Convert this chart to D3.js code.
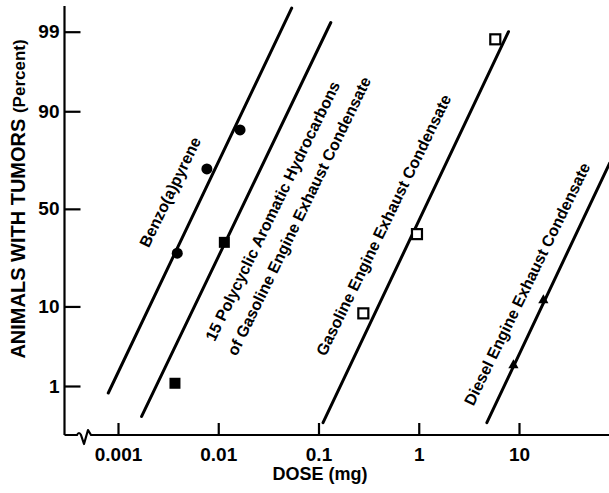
<!DOCTYPE html>
<html>
<head>
<meta charset="utf-8">
<script src="https://cdn.jsdelivr.net/npm/d3@7"></script>
<style>
  body { margin: 0; background: #fff; }
  svg { display: block; font-family: "Liberation Sans", Arial, Helvetica, sans-serif; font-weight: bold; }
</style>
</head>
<body>
<div id="chart"></div>
<script>
// tick labels
const xTickValues = [0.001, 0.01, 0.1, 1, 10];
const xTickLabels = ['0.001', '0.01', '0.1', '1', '10'];
const yTickValues = [1, 10, 50, 90, 99];

// observed points (dose mg, percent with tumors)
const benzoDose = [0.0039, 0.0077, 0.0165];
const benzoPct  = [28, 70, 85];
const pahDose   = [0.0037, 0.0115];
const pahPct    = [1.1, 33];
const gasDose   = [0.28, 0.96, 5.8];
const gasPct    = [8.5, 37, 98.7];
const dieselDose = [8.8, 17.5];
const dieselPct  = [2, 11.5];

// fitted lines, end points
const benzoFitDose  = [0.0008, 0.054];
const benzoFitPct   = [0.78, 99.58];
const pahFitDose    = [0.00172, 0.1327];
const pahFitPct     = [0.32, 99.28];
const gasFitDose    = [0.111, 7.86];
const gasFitPct     = [0.25, 99.0];
const dieselFitDose = [4.78, 80];
const dieselFitPct  = [0.25, 72.5];

// inverse normal cdf (Acklam)
function probit(p) {
  const a = [-39.69683028665376, 220.9460984245205, -275.9285104469687, 138.3577518672690, -30.66479806614716, 2.506628277459239];
  const b = [-54.47609879822406, 161.5858368580409, -155.6989798598866, 66.80131188771972, -13.28068155288572];
  const c = [-0.007784894002430293, -0.3223964580411365, -2.400758277161838, -2.549732539343734, 4.374664141464968, 2.938163982698783];
  const d = [0.007784695709041462, 0.3224671290700398, 2.445134137142996, 3.754408661907416];
  const pl = 0.02425;
  let q, r;
  if (p < pl) {
    q = Math.sqrt(-2 * Math.log(p));
    return (((((c[0]*q+c[1])*q+c[2])*q+c[3])*q+c[4])*q+c[5]) / ((((d[0]*q+d[1])*q+d[2])*q+d[3])*q+1);
  } else if (p <= 1 - pl) {
    q = p - 0.5; r = q * q;
    return (((((a[0]*r+a[1])*r+a[2])*r+a[3])*r+a[4])*r+a[5])*q / (((((b[0]*r+b[1])*r+b[2])*r+b[3])*r+b[4])*r+1);
  } else {
    q = Math.sqrt(-2 * Math.log(1 - p));
    return -(((((c[0]*q+c[1])*q+c[2])*q+c[3])*q+c[4])*q+c[5]) / ((((d[0]*q+d[1])*q+d[2])*q+d[3])*q+1);
  }
}

const W = 609, H = 493;
const axisX = 64.5, axisY = 435;

const x = d3.scaleLog().domain([0.001, 10]).range([118, 519]);
const y = d3.scaleLinear().domain([probit(0.01), probit(0.99)]).range([386, 31.7]);
const yp = p => y(probit(p / 100));

const svg = d3.select('#chart').append('svg')
    .attr('width', W)
    .attr('height', H);

svg.append('defs').append('clipPath').attr('id', 'plot')
  .append('rect').attr('x', axisX).attr('y', 0).attr('width', W - axisX).attr('height', axisY);

// y axis
svg.append('line')
    .attr('x1', axisX).attr('x2', axisX)
    .attr('y1', 6).attr('y2', axisY)
    .attr('stroke', '#000').attr('stroke-width', 2.2);

const yAxis = d3.axisLeft(y)
    .tickValues(yTickValues.map(p => probit(p / 100)))
    .tickFormat((d, i) => yTickValues[i])
    .tickSizeInner(-16)
    .tickSizeOuter(0)
    .tickPadding(5);

const gy = svg.append('g')
    .attr('transform', 'translate(' + axisX + ',0)')
    .call(yAxis);
gy.select('.domain').remove();
gy.selectAll('.tick line').attr('stroke', '#000').attr('stroke-width', 2.2);
gy.selectAll('.tick text')
    .attr('font-size', '19px')
    .attr('font-family', '"Liberation Sans", Arial, sans-serif')
    .attr('font-weight', 'bold')
    .attr('fill', '#000');

// x axis with break mark
svg.append('path')
    .attr('d', 'M' + axisX + ',' + axisY + 'L77,' + axisY + 'Q79,431 81,' + axisY +
               'L84,444L88,430L91,' + axisY + 'L' + W + ',' + axisY)
    .attr('fill', 'none')
    .attr('stroke', '#000')
    .attr('stroke-width', 2.2)
    .attr('stroke-linejoin', 'round');

const xAxis = d3.axisBottom(x)
    .tickValues(xTickValues)
    .tickFormat((d, i) => xTickLabels[i])
    .tickSizeInner(-12)
    .tickSizeOuter(0)
    .tickPadding(13);

const gx = svg.append('g')
    .attr('transform', 'translate(0,' + axisY + ')')
    .call(xAxis);
gx.select('.domain').remove();
gx.selectAll('.tick line').attr('stroke', '#000').attr('stroke-width', 2.2);
gx.selectAll('.tick text')
    .attr('font-size', '19px')
    .attr('font-family', '"Liberation Sans", Arial, sans-serif')
    .attr('font-weight', 'bold')
    .attr('fill', '#000');

// axis titles
svg.append('text')
    .attr('x', 320).attr('y', 480)
    .attr('text-anchor', 'middle')
    .attr('font-size', '18px')
    .text('DOSE (mg)');

const yt = svg.append('text')
    .attr('transform', 'translate(25,199) rotate(-90)')
    .attr('text-anchor', 'middle')
    .attr('font-size', '20px');
yt.append('tspan').text('ANIMALS WITH TUMORS ');
yt.append('tspan').attr('font-size', '17px').text('(Percent)');

// fitted lines
const fits = [
  [benzoFitDose, benzoFitPct],
  [pahFitDose, pahFitPct],
  [gasFitDose, gasFitPct],
  [dieselFitDose, dieselFitPct]
];
const plot = svg.append('g').attr('clip-path', 'url(#plot)');
plot.selectAll('.fit')
    .data(fits)
    .enter().append('line')
    .attr('class', 'fit')
    .attr('x1', d => x(d[0][0])).attr('y1', d => yp(d[1][0]))
    .attr('x2', d => x(d[0][1])).attr('y2', d => yp(d[1][1]))
    .attr('stroke', '#000')
    .attr('stroke-width', 3)
    .attr('stroke-linecap', 'round');

// markers
const zip = (ds, ps) => ds.map((d, i) => ({ dose: d, pct: ps[i] }));

plot.selectAll('.benzo')
    .data(zip(benzoDose, benzoPct))
    .enter().append('circle')
    .attr('cx', d => x(d.dose)).attr('cy', d => yp(d.pct))
    .attr('r', 5.5)
    .attr('fill', '#000');

plot.selectAll('.pah')
    .data(zip(pahDose, pahPct))
    .enter().append('rect')
    .attr('x', d => x(d.dose) - 5.5).attr('y', d => yp(d.pct) - 5.5)
    .attr('width', 11).attr('height', 11)
    .attr('fill', '#000');

plot.selectAll('.gas')
    .data(zip(gasDose, gasPct))
    .enter().append('rect')
    .attr('x', d => x(d.dose) - 5).attr('y', d => yp(d.pct) - 5)
    .attr('width', 10).attr('height', 10)
    .attr('fill', '#fff')
    .attr('stroke', '#000')
    .attr('stroke-width', 2.2);

plot.selectAll('.diesel')
    .data(zip(dieselDose, dieselPct))
    .enter().append('path')
    .attr('transform', d => 'translate(' + x(d.dose) + ',' + yp(d.pct) + ')')
    .attr('d', d3.symbol().type(d3.symbolTriangle).size(45))
    .attr('fill', '#000');

// line labels
const labels = [
  { text: 'Benzo(a)pyrene', cx: 170, cy: 192 },
  { text: '15 Polycyclic Aromatic Hydrocarbons', cx: 272.5, cy: 211 },
  { text: 'of Gasoline Engine Exhaust Condensate', cx: 299, cy: 216 },
  { text: 'Gasoline Engine Exhaust Condensate', cx: 383.5, cy: 225 },
  { text: 'Diesel Engine Exhaust Condensate', cx: 527, cy: 284 }
];
svg.selectAll('.lbl')
    .data(labels)
    .enter().append('text')
    .attr('class', 'lbl')
    .attr('transform', d => 'translate(' + d.cx + ',' + d.cy + ') rotate(-64)')
    .attr('text-anchor', 'middle')
    .attr('dy', '0.35em')
    .attr('font-size', '16px')
    .text(d => d.text);
</script>
</body>
</html>
